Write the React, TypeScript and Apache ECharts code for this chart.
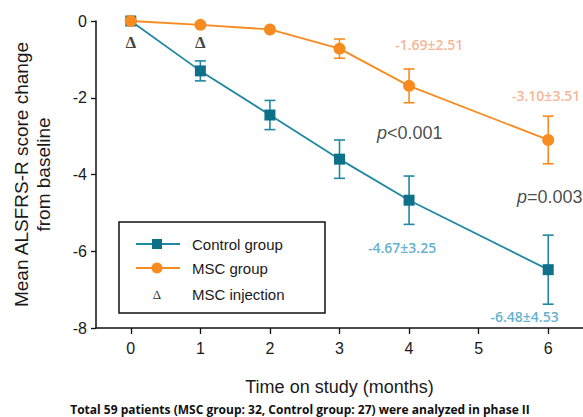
import React, { useEffect, useRef } from "react";
import * as echarts from "echarts";

// ---- data ----
const months = [0, 1, 2, 3, 4, 6];
const controlMean = [0, -1.3, -2.45, -3.6, -4.67, -6.48];
const controlSem = [0, 0.26, 0.38, 0.5, 0.63, 0.9];
const mscMean = [0, -0.1, -0.22, -0.72, -1.69, -3.1];
const mscSem = [0, 0, 0, 0.25, 0.44, 0.62];
const injectionMonths = [0, 1];
const xTickValues = [0, 1, 2, 3, 4, 5, 6];

const mscNotes = [
  { text: "-1.69±2.51", x: 4.29, y: -0.62 },
  { text: "-3.10±3.51", x: 5.97, y: -1.93 },
];
const controlNotes = [
  { text: "-4.67±3.25", x: 3.9, y: -5.91 },
  { text: "-6.48±4.53", x: 5.66, y: -7.71 },
];
const pNotes = [
  { op: "<0.001", x: 3.54, y: -2.92 },
  { op: "=0.003", x: 5.55, y: -4.58 },
];
const injectionLabelY = -0.57;

const TEAL_LINE = "#2088a2";
const TEAL_MARK = "#0f7189";
const TEAL_TEXT = "#3a9cc2";
const ORANGE = "#f88b1f";
const ORANGE_TEXT = "#f6a27a";
const SANS = "'Liberation Sans', Arial, sans-serif";
const LABEL_FONT = "'Open Sans', 'Noto Sans', sans-serif";

function errData(mean: number[], sem: number[]) {
  return months
    .map((m, i) => [m, mean[i] - sem[i], mean[i] + sem[i]])
    .filter((d, i) => sem[i] > 0);
}

function errRender(color: string) {
  return (params: any, api: any) => {
    const x = api.value(0);
    const lo = api.value(1);
    const hi = api.value(2);
    const pHi = api.coord([x, hi]);
    const pLo = api.coord([x, lo]);
    const hw = 5.5;
    const style = { stroke: color, lineWidth: 1.6 };
    return {
      type: "group",
      children: [
        { type: "line", shape: { x1: pHi[0], y1: pHi[1], x2: pLo[0], y2: pLo[1] }, style },
        { type: "line", shape: { x1: pHi[0] - hw, y1: pHi[1], x2: pHi[0] + hw, y2: pHi[1] }, style },
        { type: "line", shape: { x1: pLo[0] - hw, y1: pLo[1], x2: pLo[0] + hw, y2: pLo[1] }, style },
      ],
    };
  };
}

export default function App() {
  const ref = useRef<HTMLDivElement>(null);
  useEffect(() => {
    if (!ref.current) return;
    const chart = echarts.init(ref.current, null, { renderer: "svg" });

    const noteItems: any[] = [];
    mscNotes.forEach((n) =>
      noteItems.push({
        value: [n.x, n.y],
        label: { formatter: n.text, color: ORANGE_TEXT, fontFamily: LABEL_FONT, fontWeight: 600, fontSize: 14, align: "center" },
      })
    );
    controlNotes.forEach((n) =>
      noteItems.push({
        value: [n.x, n.y],
        label: { formatter: n.text, color: TEAL_TEXT, fontFamily: LABEL_FONT, fontWeight: 600, fontSize: 14, align: "center" },
      })
    );
    pNotes.forEach((n) =>
      noteItems.push({
        value: [n.x, n.y],
        label: {
          formatter: "{i|p}{n|" + n.op + "}",
          align: "left",
          rich: {
            i: { fontStyle: "italic", fontFamily: SANS, fontSize: 18, color: "#1a1a1a" },
            n: { fontFamily: SANS, fontSize: 18, color: "#1a1a1a" },
          },
        },
      })
    );
    injectionMonths.forEach((m) =>
      noteItems.push({
        value: [m, injectionLabelY],
        label: { formatter: "Δ", color: "#111", fontFamily: "'Liberation Serif', serif", fontWeight: "bold", fontSize: 17, align: "center" },
      })
    );

    const legendX = 119;
    const legendY = 222;
    const legendGraphic: any[] = [
      { type: "rect", shape: { x: legendX, y: legendY, width: 206, height: 91 }, style: { fill: "#fff", stroke: "#111", lineWidth: 1.5 }, z: 50 },
      { type: "line", shape: { x1: 136, y1: 244, x2: 180, y2: 244 }, style: { stroke: TEAL_LINE, lineWidth: 1.8 }, z: 51 },
      { type: "rect", shape: { x: 152, y: 239, width: 10, height: 10 }, style: { fill: TEAL_MARK }, z: 52 },
      { type: "text", x: 192, y: 244, style: { text: "Control group", fontFamily: SANS, fontSize: 15, fill: "#1a1a1a", verticalAlign: "middle" }, z: 52 },
      { type: "line", shape: { x1: 136, y1: 268, x2: 180, y2: 268 }, style: { stroke: ORANGE, lineWidth: 1.8 }, z: 51 },
      { type: "circle", shape: { cx: 157, cy: 268, r: 5.5 }, style: { fill: ORANGE }, z: 52 },
      { type: "text", x: 192, y: 268, style: { text: "MSC group", fontFamily: SANS, fontSize: 15, fill: "#1a1a1a", verticalAlign: "middle" }, z: 52 },
      { type: "text", x: 157, y: 294, style: { text: "Δ", fontFamily: "'Liberation Serif', serif", fontSize: 13, fill: "#333", align: "center", verticalAlign: "middle" }, z: 52 },
      { type: "text", x: 192, y: 294, style: { text: "MSC injection", fontFamily: SANS, fontSize: 15, fill: "#1a1a1a", verticalAlign: "middle" }, z: 52 },
      {
        type: "text",
        x: 300,
        y: 409,
        style: {
          text: "Total 59 patients (MSC group: 32, Control group: 27) were analyzed in phase II",
          fontFamily: "'Open Sans', 'Noto Sans', sans-serif",
          fontWeight: "bold",
          fontSize: 12,
          fill: "#111",
          align: "center",
          verticalAlign: "middle",
        },
      },
    ];

    chart.setOption({
      animation: false,
      backgroundColor: "#fff",
      grid: { left: 96, right: -3, top: 21, bottom: 89, containLabel: false },
      xAxis: {
        type: "value",
        min: -0.5,
        max: 6.5,
        name: "Time on study (months)",
        nameLocation: "middle",
        nameGap: 50,
        nameTextStyle: { fontFamily: SANS, fontSize: 18, color: "#1a1a1a" },
        axisLine: { show: true, onZero: false, lineStyle: { color: "#111", width: 1.5 } },
        axisTick: { show: true, length: 6, customValues: xTickValues, lineStyle: { color: "#111", width: 1.3 } },
        axisLabel: { customValues: xTickValues, fontFamily: SANS, fontSize: 16, color: "#1a1a1a", margin: 12 },
        splitLine: { show: false },
      },
      yAxis: {
        type: "value",
        min: -8,
        max: 0,
        interval: 2,
        name: "Mean ALSFRS-R score change\nfrom baseline",
        nameLocation: "middle",
        nameRotate: 90,
        nameGap: 42,
        nameTextStyle: { fontFamily: SANS, fontSize: 19, lineHeight: 22, color: "#1a1a1a", align: "center" },
        axisLine: { show: true, onZero: false, lineStyle: { color: "#111", width: 1.5 } },
        axisTick: { show: true, length: 5, lineStyle: { color: "#111", width: 1.3 } },
        axisLabel: { fontFamily: SANS, fontSize: 16, color: "#1a1a1a", margin: 9 },
        splitLine: { show: false },
      },
      graphic: legendGraphic,
      series: [
        {
          name: "Control error",
          type: "custom",
          renderItem: errRender(TEAL_LINE),
          data: errData(controlMean, controlSem),
          encode: { x: 0, y: [1, 2] },
          z: 2,
        },
        {
          name: "MSC error",
          type: "custom",
          renderItem: errRender(ORANGE),
          data: errData(mscMean, mscSem),
          encode: { x: 0, y: [1, 2] },
          z: 2,
        },
        {
          name: "Control group",
          type: "line",
          data: months.map((m, i) => [m, controlMean[i]]),
          symbol: "rect",
          symbolSize: 11,
          lineStyle: { color: TEAL_LINE, width: 1.8 },
          itemStyle: { color: TEAL_MARK },
          z: 3,
        },
        {
          name: "MSC group",
          type: "line",
          data: months.map((m, i) => [m, mscMean[i]]),
          symbol: "circle",
          symbolSize: 12,
          lineStyle: { color: ORANGE, width: 1.8 },
          itemStyle: { color: ORANGE },
          z: 4,
        },
        {
          name: "annotations",
          type: "scatter",
          symbolSize: 0,
          silent: true,
          label: { show: true, position: "inside" },
          data: noteItems,
          z: 5,
        },
      ],
    });
    return () => chart.dispose();
  }, []);
  return (
    <div
      ref={ref}
      style={{ position: "fixed", left: 0, top: 0, width: 583, height: 417, background: "#fff" }}
    />
  );
}
